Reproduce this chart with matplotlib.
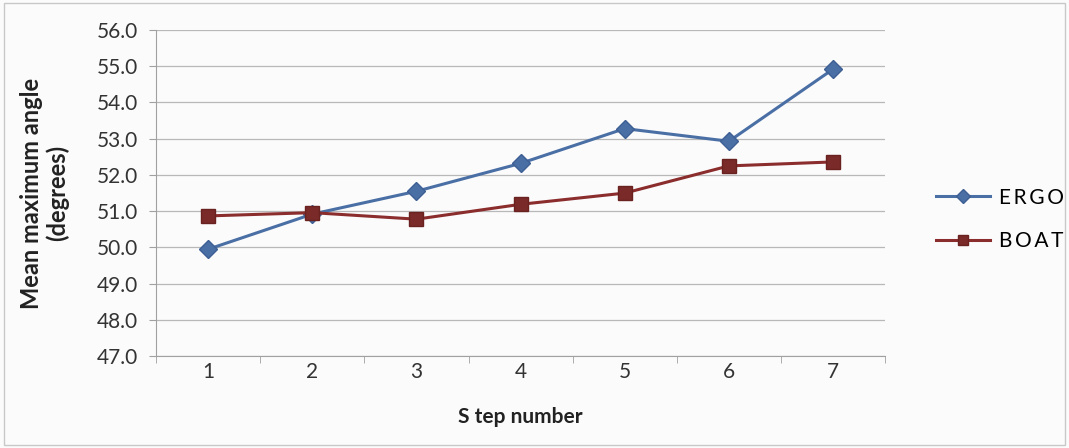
import matplotlib
matplotlib.use("Agg")
import matplotlib.pyplot as plt
from matplotlib.patches import Rectangle

steps = [1, 2, 3, 4, 5, 6, 7]
ergo = [49.95, 50.92, 51.55, 52.32, 53.28, 52.93, 54.92]
boat = [50.87, 50.96, 50.78, 51.19, 51.50, 52.25, 52.36]
yticks = [47.0, 48.0, 49.0, 50.0, 51.0, 52.0, 53.0, 54.0, 55.0, 56.0]

plt.rcParams['font.family'] = ['Lato', 'DejaVu Sans']

fig = plt.figure(figsize=(10.69, 4.48), dpi=100)
fig.patch.set_facecolor('#fbfbfc')
fig.patches.append(Rectangle((0.004, 0.006), 0.992, 0.988, transform=fig.transFigure,
                             fill=False, edgecolor='#c8c8c8', linewidth=1.0))
ax = fig.add_axes([0.146, 0.205, 0.682, 0.728])
ax.set_facecolor('#fbfbfc')

x = list(range(len(steps)))
ax.plot(x, ergo, color='#4a6fa5', linewidth=2.2, marker='D', markersize=9,
        markerfacecolor='#4a6fa5', markeredgecolor='#3d5f94', label='ERGO', zorder=3)
ax.plot(x, boat, color='#8b2d2d', linewidth=2.2, marker='s', markersize=10,
        markerfacecolor='#7a2a28', markeredgecolor='#6a2220', label='BOAT', zorder=3)

ax.set_xlim(-0.5, len(steps) - 0.5)
ax.set_ylim(47.0, 56.0)
ax.set_yticks(yticks)
ax.set_yticklabels([f"{v:.1f}" for v in yticks], fontsize=15, color='#333333')
ax.yaxis.grid(True, color='#b8b8b8', linewidth=0.9)
ax.set_axisbelow(True)

ax.set_xticks(x)
ax.set_xticklabels([str(s) for s in steps], fontsize=15, color='#333333')
ax.tick_params(axis='x', length=0, pad=4)
ax.set_xticks([i - 0.5 for i in range(len(steps) + 1)], minor=True)
ax.tick_params(axis='x', which='minor', length=5, color='#a0a0a0', direction='out')
ax.tick_params(axis='y', length=5, color='#a0a0a0', direction='out', pad=8)

for s in ['top', 'right']:
    ax.spines[s].set_visible(False)
ax.spines['left'].set_color('#a0a0a0')
ax.spines['bottom'].set_color('#a0a0a0')

ax.set_xlabel('S tep number', fontsize=15, fontweight='bold', labelpad=18, color='#222222')
ax.set_ylabel('Mean maximum angle\n(degrees)', fontsize=17, fontweight='bold', labelpad=20,
              color='#222222', linespacing=1.1)

leg = fig.legend(loc='center left', bbox_to_anchor=(0.858, 0.51), frameon=False,
                 fontsize=15, handlelength=2.6, labelspacing=1.15, handletextpad=0.45,
                 markerscale=0.75)
for t in leg.get_texts():
    t.set_text('\u2009'.join(t.get_text()))

fig.savefig('out.png', dpi=100, facecolor=fig.get_facecolor())
